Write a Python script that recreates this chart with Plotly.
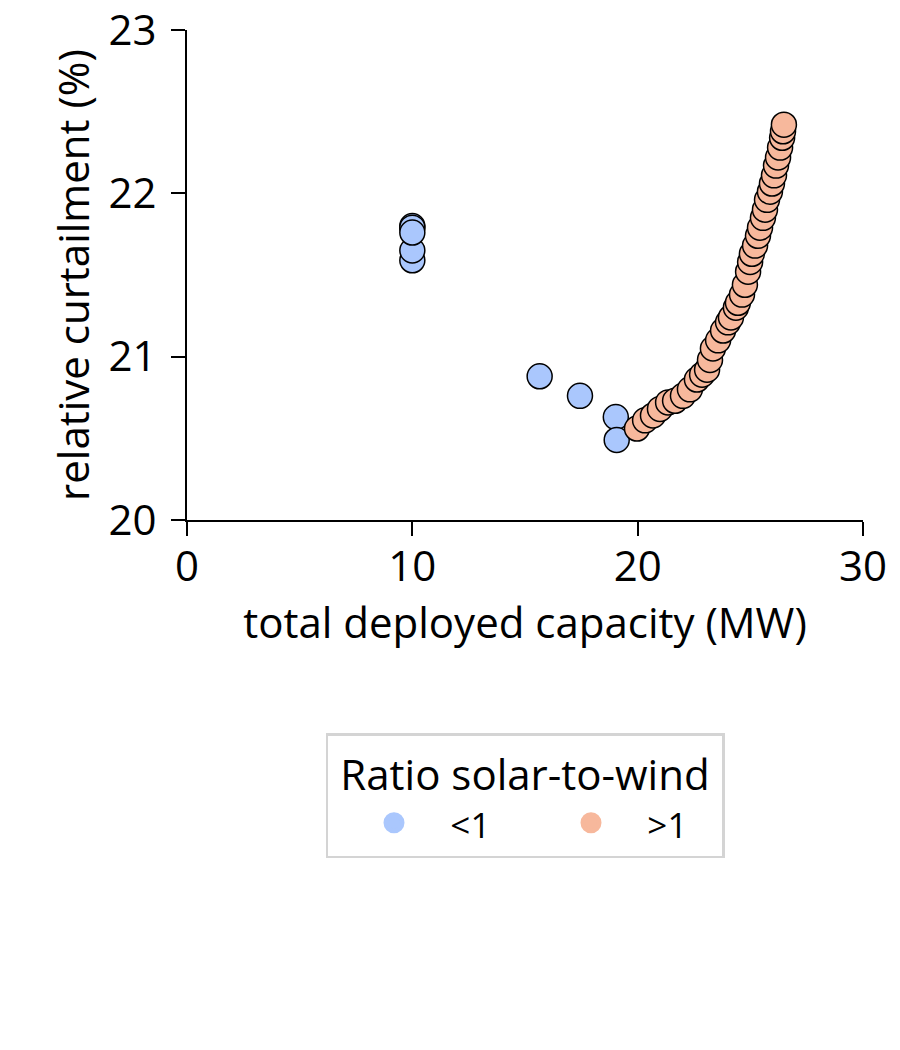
import plotly.graph_objects as go

# ratio solar-to-wind < 1
low_capacity = [10.0, 10.0, 10.0, 10.0, 10.0, 15.65, 17.44, 19.03, 19.07]
low_curtailment = [21.80, 21.79, 21.59, 21.65, 21.76, 20.88, 20.76, 20.63, 20.49]

# ratio solar-to-wind > 1
high_capacity = [
    19.97, 20.33, 20.68, 20.99, 21.35, 21.66, 22.01, 22.32, 22.63, 22.86,
    23.08, 23.21, 23.34, 23.57, 23.79, 24.01, 24.14, 24.36, 24.45, 24.63,
    24.76, 24.90, 24.99, 25.07, 25.21, 25.34, 25.43, 25.56, 25.65, 25.74,
    25.87, 25.96, 26.05, 26.14, 26.23, 26.32, 26.41, 26.45, 26.49,
]
high_curtailment = [
    20.56, 20.61, 20.64, 20.68, 20.72, 20.73, 20.76, 20.80, 20.86, 20.89,
    20.92, 20.98, 21.05, 21.10, 21.16, 21.21, 21.24, 21.30, 21.33, 21.38,
    21.44, 21.52, 21.58, 21.63, 21.68, 21.74, 21.79, 21.85, 21.90, 21.96,
    22.01, 22.06, 22.11, 22.17, 22.22, 22.28, 22.34, 22.38, 22.42,
]

groups = ["&lt;1", "&gt;1"]
colors = ["#aac7fd", "#f7b89c"]

fig = go.Figure()
for xs, ys, color in [(low_capacity, low_curtailment, colors[0]),
                      (high_capacity, high_curtailment, colors[1])]:
    fig.add_trace(go.Scatter(
        x=xs, y=ys, mode="markers", showlegend=False, hoverinfo="x+y",
        marker=dict(size=25, color=color, line=dict(color="black", width=1.5)),
    ))

# legend-only entries (no black outline, like the reference)
for name, color in zip(groups, colors):
    fig.add_trace(go.Scatter(
        x=[None], y=[None], mode="markers",
        name="<span style='font-size:35px'>    " + name + "</span>",
        marker=dict(size=16, color=color, line=dict(color=color, width=5)),
    ))

axis_style = dict(
    showline=True, linecolor="black", linewidth=2,
    ticks="outside", ticklen=14, tickwidth=2, tickcolor="black",
    showgrid=False, zeroline=False, automargin=False,
    ticklabeloverflow="allow",
    tickfont=dict(size=42, color="black"),
)

# the page body adds an 8px offset, so margins are 8px smaller than the target
fig.update_layout(
    width=900, height=1050,
    margin=dict(l=179, r=45, t=22, b=538),
    paper_bgcolor="white", plot_bgcolor="white",
    font=dict(family="Open Sans", color="black"),
    xaxis=dict(range=[0, 30], tickvals=[0, 10, 20, 30], ticklabelstandoff=-5,
               title=dict(text="total deployed capacity (MW)", font=dict(size=42), standoff=10),
               **axis_style),
    yaxis=dict(range=[20, 23], tickvals=[20, 21, 22, 23], ticklabelstandoff=6,
               title=dict(text="relative curtailment (%)", font=dict(size=42), standoff=6),
               **axis_style),
    legend=dict(
        orientation="h", x=0.5, xanchor="center", y=-0.435, yanchor="top",
        title=dict(text="Ratio solar-to-wind", side="top center", font=dict(size=42)),
        font=dict(size=40), bordercolor="#d4d4d4", borderwidth=2.5,
        entrywidth=106, indentation=46, itemsizing="trace",
    ),
)

fig.write_html("out.html")
